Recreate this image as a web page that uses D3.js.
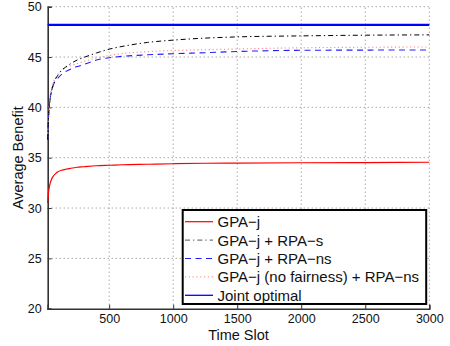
<!DOCTYPE html>
<html>
<head>
<meta charset="utf-8">
<script src="https://cdn.jsdelivr.net/npm/d3@7"></script>
<style>
  html, body { margin: 0; padding: 0; background: #fff; }
  svg { display: block; font-family: "Liberation Sans", Arial, Helvetica, sans-serif; }
</style>
</head>
<body>
<svg id="chart" width="450" height="346"></svg>
<script>
// Time slots at which the running average benefit is sampled
const timeSlots = [20, 25, 30, 40, 50, 60, 80, 100, 130, 160, 200, 250, 300, 400, 500, 600, 800, 1000, 1250, 1500, 2000, 2500, 3000];

// Average benefit per scheme
const gpaJ        = [30.5, 31.4, 31.9, 32.5, 32.85, 33.1, 33.4, 33.6, 33.75, 33.85, 33.95, 34.05, 34.1, 34.2, 34.25, 34.3, 34.35, 34.4, 34.45, 34.47, 34.5, 34.52, 34.55];
const gpaJRpaS    = [36.8, 38.6, 39.6, 40.9, 41.6, 42.1, 42.8, 43.2, 43.7, 44.0, 44.35, 44.7, 44.95, 45.4, 45.78, 46.05, 46.45, 46.68, 46.88, 47.0, 47.1, 47.17, 47.2];
const gpaJRpaNs   = [36.8, 38.7, 39.8, 41.0, 41.6, 42.1, 42.6, 42.9, 43.3, 43.55, 43.8, 44.05, 44.25, 44.7, 44.93, 45.07, 45.22, 45.33, 45.43, 45.55, 45.67, 45.69, 45.7];
const gpaJNoFair  = [37.0, 39.0, 40.1, 41.3, 41.9, 42.4, 42.9, 43.3, 43.7, 43.95, 44.15, 44.35, 44.55, 44.9, 45.15, 45.35, 45.53, 45.65, 45.73, 45.8, 45.92, 45.97, 46.0];
const jointOptimal = 48.2;

// Axis ticks and labels
const xTicks = [500, 1000, 1500, 2000, 2500, 3000];
const yTicks = [20, 25, 30, 35, 40, 45, 50];
const xLabel = "Time Slot";
const yLabel = "Average Benefit";
const legendLabels = [
  "GPA\u2212j",
  "GPA\u2212j + RPA\u2212s",
  "GPA\u2212j + RPA\u2212ns",
  "GPA\u2212j (no fairness) + RPA\u2212ns",
  "Joint optimal"
];

const svg = d3.select("#chart");
const margin = { left: 47.7, right: 20.7, top: 6.7, bottom: 37.3 };
const W = 450, H = 346;

const x = d3.scaleLinear().domain([20, 3000]).range([margin.left, W - margin.right]);
const y = d3.scaleLinear().domain([20, 50]).range([H - margin.bottom, margin.top]);

// Dotted grid
const grid = svg.append("g");
grid.selectAll("line.vx").data(xTicks).join("line")
  .attr("x1", d => x(d)).attr("x2", d => x(d))
  .attr("y1", y(20)).attr("y2", y(50))
  .attr("stroke", "#808080").attr("stroke-width", 1).attr("stroke-dasharray", "1,3");
grid.selectAll("line.hy").data(yTicks.filter(d => d > 20)).join("line")
  .attr("x1", x(20)).attr("x2", x(3000))
  .attr("y1", d => y(d)).attr("y2", d => y(d))
  .attr("stroke", "#808080").attr("stroke-width", 1).attr("stroke-dasharray", "1,3");

// Axes (ticks point inward)
const xAxis = d3.axisBottom(x).tickValues(xTicks).tickSize(-4).tickPadding(5).tickFormat(d3.format("d"));
const yAxis = d3.axisLeft(y).tickValues(yTicks).tickSize(-4).tickPadding(6).tickFormat(d3.format("d"));

const gx = svg.append("g").attr("transform", `translate(0,${y(20)})`).call(xAxis);
const gy = svg.append("g").attr("transform", `translate(${x(20)},0)`).call(yAxis);
[gx, gy].forEach(g => {
  g.select(".domain").attr("stroke", "#333").attr("stroke-width", 1.6);
  g.selectAll(".tick line").attr("stroke", "#333").attr("stroke-width", 1);
  g.selectAll(".tick text").attr("fill", "#111").attr("font-size", 12.5)
    .attr("font-family", "Liberation Sans, Arial, sans-serif");
});

// Series
const series = [
  { values: gpaJRpaNs,  color: "#2020ff", width: 1.1, dash: "6,4.5" },
  { values: gpaJNoFair, color: "#ff8a8a", width: 1.1, dash: "1.2,2.6" },
  { values: gpaJRpaS,   color: "#000",    width: 1,   dash: "5,3,1.3,3" },
  { values: gpaJ,       color: "#ff0000", width: 1.2, dash: null }
];
const line = d3.line()
  .x((d, i) => x(timeSlots[i]))
  .y(d => y(d))
  .curve(d3.curveMonotoneX);

series.forEach(s => {
  svg.append("path")
    .datum(s.values)
    .attr("d", line)
    .attr("fill", "none")
    .attr("stroke", s.color)
    .attr("stroke-width", s.width)
    .attr("stroke-dasharray", s.dash);
});

// Joint optimal reference
svg.append("line")
  .attr("x1", x(20)).attr("x2", x(3000))
  .attr("y1", y(jointOptimal)).attr("y2", y(jointOptimal))
  .attr("stroke", "#0000ff").attr("stroke-width", 2.2);

// Axis labels
svg.append("text")
  .attr("x", (x(20) + x(3000)) / 2).attr("y", 340)
  .attr("text-anchor", "middle").attr("font-size", 14.5).attr("fill", "#111")
  .text(xLabel);
svg.append("text")
  .attr("transform", `translate(23,${(y(20) + y(50)) / 2}) rotate(-90)`)
  .attr("text-anchor", "middle").attr("font-size", 14.5).attr("fill", "#111")
  .text(yLabel);

// Legend
const legendStyles = [
  { color: "#ff0000", width: 1.2, dash: null },
  { color: "#555",    width: 1,   dash: "5,3,1.3,3" },
  { color: "#2020ff", width: 1.1, dash: "6,4.5" },
  { color: "#ff9a9a", width: 1.1, dash: "1.2,2.6" },
  { color: "#0000ff", width: 1.3, dash: null }
];
const lg = svg.append("g");
lg.append("rect")
  .attr("x", 182.7).attr("y", 210).attr("width", 243.5).attr("height", 94)
  .attr("fill", "#fff").attr("stroke", "#000").attr("stroke-width", 2);
const rowY = i => 221.7 + i * 18.4;
legendLabels.forEach((lab, i) => {
  const st = legendStyles[i];
  lg.append("line")
    .attr("x1", 185).attr("x2", 213).attr("y1", rowY(i)).attr("y2", rowY(i))
    .attr("stroke", st.color).attr("stroke-width", st.width)
    .attr("stroke-dasharray", st.dash);
  lg.append("text")
    .attr("x", 217.5).attr("y", rowY(i) + 5.4)
    .attr("font-size", 15).attr("fill", "#111")
    .text(lab);
});
</script>
</body>
</html>
